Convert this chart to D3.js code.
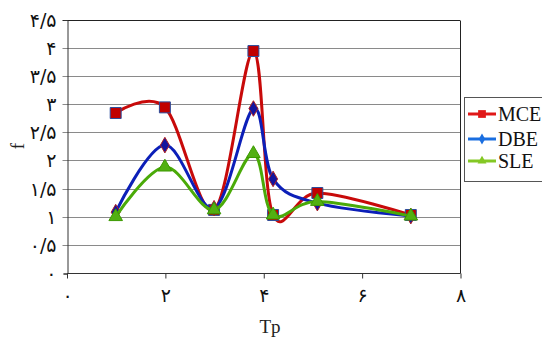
<!DOCTYPE html>
<html><head><meta charset="utf-8">
<script src="https://cdn.jsdelivr.net/npm/d3@7"></script>
<style>body{margin:0;background:#fff}svg{display:block}</style>
</head><body>
<svg id="c" width="542" height="338"></svg>
<script>
const tp  = [1, 2, 3, 3.8, 4.2, 5.1, 7];
const mce = [2.84, 2.94, 1.12, 3.94, 1.03, 1.42, 1.03];
const dbe = [1.08, 2.27, 1.15, 2.92, 1.67, 1.24, 1.01];
const sle = [1.00, 1.88, 1.12, 2.12, 1.03, 1.27, 1.01];
const seriesNames = ["MCE", "DBE", "SLE"];
const yTicks = [0, 0.5, 1, 1.5, 2, 2.5, 3, 3.5, 4, 4.5];
const yTickLabels = ["۰","۰/۵","۱","۱/۵","۲","۲/۵","۳","۳/۵","۴","۴/۵"];
const xTicks = [0, 2, 4, 6, 8];
const xTickLabels = ["۰","۲","۴","۶","۸"];

const svg = d3.select("#c");
const x = d3.scaleLinear().domain([0, 8]).range([66.5, 460]);
const y = d3.scaleLinear().domain([0, 4.5]).range([273, 19.5]);

// gridlines
svg.append("g").selectAll("line").data(yTicks.slice(1)).join("line")
  .attr("x1", x(0) - 4).attr("x2", x(8))
  .attr("y1", d => Math.round(y(d)) + 0.5).attr("y2", d => Math.round(y(d)) + 0.5)
  .attr("stroke", d => d === 4.5 ? "#222" : "#8a8a8a").attr("stroke-width", 1);
// right border
svg.append("line").attr("x1", x(8)+0.5).attr("x2", x(8)+0.5).attr("y1", Math.round(y(4.5))+0.5).attr("y2", y(0)+0.5)
  .attr("stroke", "#222");

// axes
const yAxis = d3.axisLeft(y).tickValues(yTicks).tickFormat((d,i) => yTickLabels[i]).tickSize(4).tickPadding(7);
const gy = svg.append("g").attr("transform", `translate(${Math.round(x(0))+0.5},0.5)`).call(yAxis);
const xAxis = d3.axisBottom(x).tickValues(xTicks).tickFormat((d,i) => xTickLabels[i]).tickSize(5).tickPadding(10);
const gx = svg.append("g").attr("transform", `translate(0.5,${Math.round(y(0))+0.5})`).call(xAxis);
[gx, gy].forEach(g => {
  g.select(".domain").attr("stroke", "#333");
  g.selectAll(".tick line").attr("stroke", "#333");
  g.selectAll(".tick text").attr("font-family", "DejaVu Sans").attr("font-size", 19).attr("fill", "#111");
});
gy.selectAll(".tick line").filter(d => d > 0).remove();
gx.select(".domain").attr("d", `M${x(0)},0H${x(8)}`);

// axis titles
svg.append("text").attr("x", 270).attr("y", 333).attr("text-anchor", "middle")
  .attr("font-family", "Liberation Serif").attr("font-size", 19).attr("fill", "#222").text("Tp");
svg.append("text").attr("transform", "translate(24,146) rotate(-90)").attr("text-anchor", "middle")
  .attr("font-family", "Liberation Serif").attr("font-size", 19).attr("fill", "#222").text("f");

const series = [
  {name: seriesNames[0], vals: mce, line: "#c80a0a", fill: "#c00000", stroke: "#2a4c9c", shape: "square"},
  {name: seriesNames[1], vals: dbe, line: "#0c1fb8", fill: "#14149e", stroke: "#b02020", shape: "diamond"},
  {name: seriesNames[2], vals: sle, line: "#4aaa08", fill: "#52b012", stroke: "#3c9a00", shape: "triangle"}
];
const legendColors = ["#e01818", "#1a6ee0", "#84c824"];
const symType = {square: d3.symbolSquare, diamond: d3.symbolDiamond, triangle: d3.symbolTriangle};
const symSize = {square: 120, diamond: 70, triangle: 80};

const lineGen = d3.line().x(d => x(d[0])).y(d => y(d[1])).curve(d3.curveCardinal.tension(0));

series.forEach(s => {
  const pts = tp.map((t, i) => [t, s.vals[i]]);
  svg.append("path").datum(pts).attr("d", lineGen).attr("fill", "none")
    .attr("stroke", s.line).attr("stroke-width", 3);
  svg.append("g").selectAll("path").data(pts).join("path")
    .attr("transform", d => `translate(${x(d[0])},${y(d[1])})`)
    .attr("d", d3.symbol().type(symType[s.shape]).size(symSize[s.shape]))
    .attr("fill", s.fill).attr("stroke", s.stroke).attr("stroke-width", 1);
});

// legend
const lg = svg.append("g");
lg.append("rect").attr("x", 464.5).attr("y", 97.5).attr("width", 90).attr("height", 84)
  .attr("fill", "#fff").attr("stroke", "#555");
const legY = [114, 139, 161];
series.forEach((s, i) => {
  const c = legendColors[i];
  lg.append("line").attr("x1", 468).attr("x2", 496).attr("y1", legY[i]).attr("y2", legY[i])
    .attr("stroke", c).attr("stroke-width", 3);
  lg.append("path").attr("transform", `translate(482,${legY[i]})`)
    .attr("d", d3.symbol().type(symType[s.shape]).size(s.shape === "square" ? 60 : 35))
    .attr("fill", c);
  lg.append("text").attr("x", 498).attr("y", legY[i] + 7).attr("font-family", "Liberation Serif")
    .attr("font-size", 20).attr("fill", "#111").text(s.name);
});
</script>
</body></html>
